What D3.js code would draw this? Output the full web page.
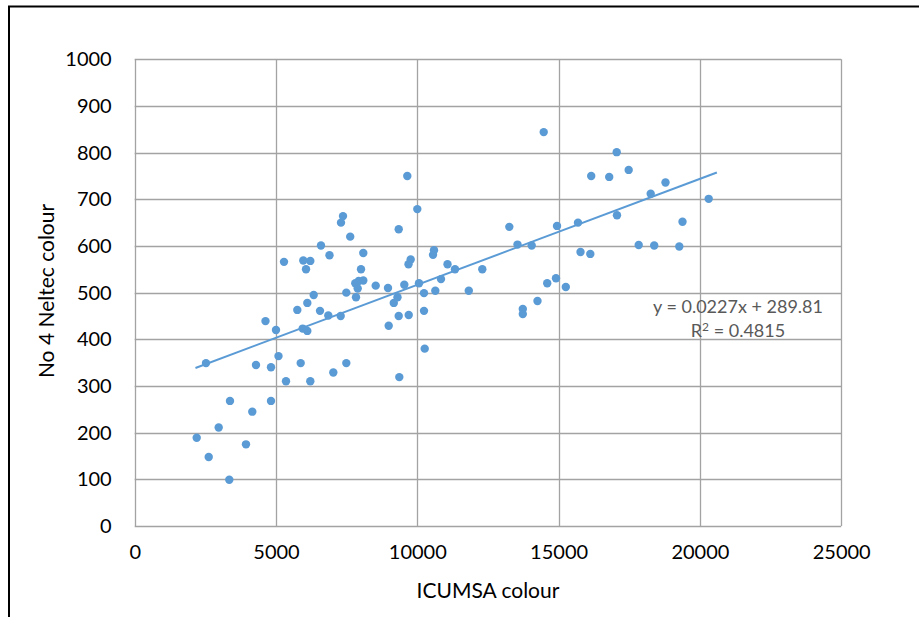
<!DOCTYPE html>
<html><head><meta charset="utf-8">
<script src="https://cdn.jsdelivr.net/npm/d3@7"></script>
<style>
html,body{margin:0;padding:0;background:#fff;}
svg{display:block;}
text{font-family:Lato,"Open Sans",sans-serif;}
</style></head>
<body>
<svg id="chart" width="919" height="617"></svg>
<script>
// ICUMSA colour (x)
const icumsa = [2194,2523,2619,2972,3347,3372,3938,4161,4292,4628,4823,4823,5000,5088,5283,5354,5754,5874,5945,5966,6062,6108,6108,6214,6214,6334,6557,6592,6851,6893,7028,7289,7300,7371,7488,7488,7626,7806,7831,7926,7891,8089,8008,8089,8528,8963,8988,9168,9299,9342,9342,9363,9540,9646,9696,9689,9766,10000,10060,10237,10237,10262,10556,10591,10637,10839,11069,11334,11822,12300,13256,13546,13733,13733,14048,14253,14473,14597,14908,14944,15255,15686,15775,16122,16154,16791,17056,17066,17480,17834,18259,18383,18783,19271,19384,20311];
// No 4 Neltec colour (y)
const neltec = [189,349,148,211,99,268,175,245,345,439,340,268,420,364,566,310,463,349,423,569,550,478,418,568,310,495,461,601,451,580,329,450,650,664,500,349,620,520,490,525,509,526,550,585,515,510,429,478,490,636,450,319,517,750,452,561,571,679,520,499,461,380,581,591,504,529,561,550,504,550,641,603,465,454,601,482,844,520,531,643,512,650,587,583,750,748,801,666,763,602,712,601,736,599,652,701];
const xTicks = [0,5000,10000,15000,20000,25000];
const yTicks = [0,100,200,300,400,500,600,700,800,900,1000];
const trendSlope = 0.0227, trendIntercept = 289.81, trendR2 = 0.4815;
const trendRange = [2150, 20600];
const xTitle = "ICUMSA colour", yTitle = "No 4 Neltec colour";

const svg = d3.select("#chart");
const L = 134.7, R = 841.2, T = 59.3, B = 526;
const x = d3.scaleLinear().domain([0,25000]).range([L,R]);
const y = d3.scaleLinear().domain([0,1000]).range([B,T]);
const grid = "#a3a3a3";

// outer frame (partial, as in reference)
svg.append("path").attr("d","M9,617 V6.5 H919").attr("fill","none").attr("stroke","#000").attr("stroke-width",2);

// gridlines
svg.append("g").selectAll("line").data(yTicks).join("line")
  .attr("x1",L).attr("x2",R).attr("y1",d=>Math.round(y(d))+0.5).attr("y2",d=>Math.round(y(d))+0.5)
  .attr("stroke",grid).attr("stroke-width",1.3);
svg.append("g").selectAll("line").data(xTicks).join("line")
  .attr("y1",T).attr("y2",B).attr("x1",d=>Math.round(x(d))+0.5).attr("x2",d=>Math.round(x(d))+0.5)
  .attr("stroke",grid).attr("stroke-width",1.3);

// axes labels via d3 axes (no domain/ticks lines)
const xa = svg.append("g").attr("transform",`translate(0,${B})`)
  .call(d3.axisBottom(x).tickValues(xTicks).tickSize(0).tickPadding(19).tickFormat(d3.format("d")));
const ya = svg.append("g").attr("transform",`translate(${L},0)`)
  .call(d3.axisLeft(y).tickValues(yTicks).tickSize(0).tickPadding(23).tickFormat(d3.format("d")));
[xa,ya].forEach(g=>{
  g.select(".domain").remove();
  g.selectAll("text").attr("font-family","Lato,'Open Sans',sans-serif").attr("font-size",20).attr("fill","#000");
});

// titles
svg.append("text").attr("x",(L+R)/2).attr("y",598).attr("text-anchor","middle")
  .attr("font-size",21).attr("fill","#000").text(xTitle);
svg.append("text").attr("transform",`translate(54,291) rotate(-90)`).attr("text-anchor","middle")
  .attr("font-size",21).attr("fill","#000").text(yTitle);

// points
const pts = icumsa.map((v,i)=>({x:v,y:neltec[i]}));
svg.append("g").selectAll("circle").data(pts).join("circle")
  .attr("cx",d=>x(d.x)).attr("cy",d=>y(d.y)).attr("r",4.2).attr("fill","#5b9bd5");

// trendline
const line = d3.line().x(d=>x(d)).y(d=>y(trendSlope*d+trendIntercept));
svg.append("path").datum(trendRange).attr("d",line).attr("fill","none")
  .attr("stroke","#5b9bd5").attr("stroke-width",2);

// equation label
svg.append("text").attr("x",738).attr("y",313).attr("text-anchor","middle")
  .attr("font-size",18).attr("fill","#595959")
  .text(`y = ${trendSlope}x + ${trendIntercept}`);
const r2 = svg.append("text").attr("x",738).attr("y",337).attr("text-anchor","middle")
  .attr("font-size",18).attr("fill","#595959");
r2.append("tspan").text("R");
r2.append("tspan").attr("dy",-6).attr("font-size",12).text("2");
r2.append("tspan").attr("dy",6).text(` = ${trendR2}`);
</script>
</body></html>
